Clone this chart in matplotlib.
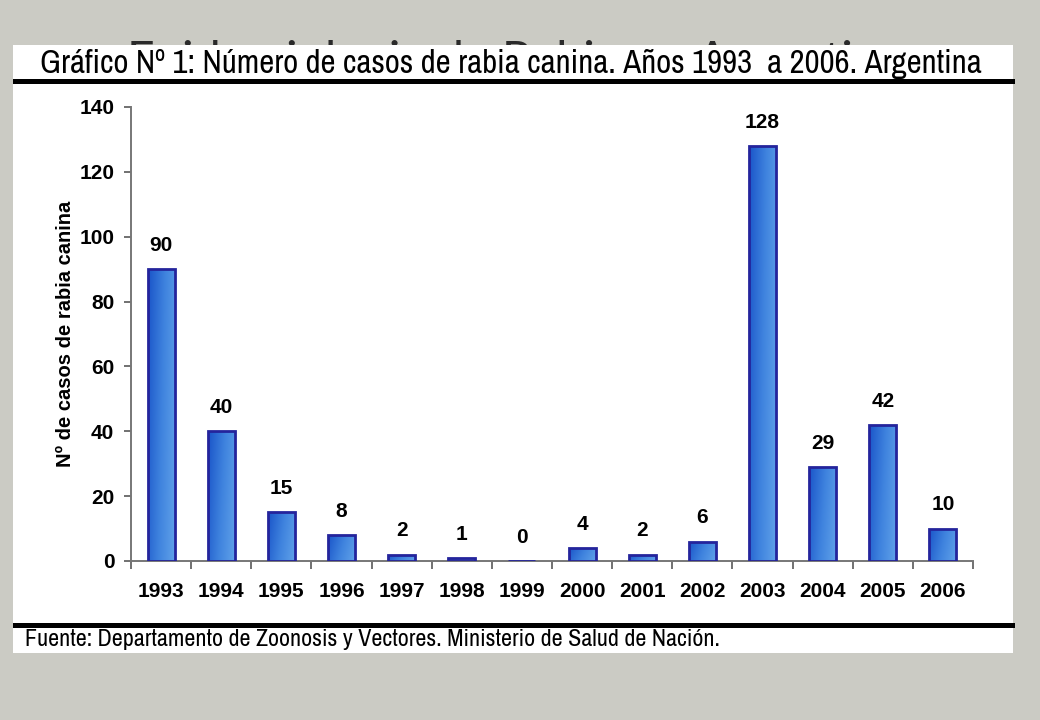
import numpy as np
import matplotlib
matplotlib.use("Agg")
import matplotlib.pyplot as plt
import matplotlib.ticker as mticker
from matplotlib import font_manager
from matplotlib.patches import Rectangle
from matplotlib.lines import Line2D
from matplotlib.colors import LinearSegmentedColormap

years = ["1993", "1994", "1995", "1996", "1997", "1998", "1999",
         "2000", "2001", "2002", "2003", "2004", "2005", "2006"]
cases = [90, 40, 15, 8, 2, 1, 0, 4, 2, 6, 128, 29, 42, 10]

slide_title = "Epidemiologia de Rabia en Argentina"
chart_title = "Gráfico Nº 1: Número de casos de rabia canina. Años 1993  a 2006. Argentina"
source = "Fuente: Departamento de Zoonosis y Vectores. Ministerio de Salud de Nación."
ylabel = "Nº de casos de rabia canina"

plt.rcParams["font.family"] = ["Liberation Sans", "DejaVu Sans"]

# a condensed face if one is installed, else plain Liberation Sans
installed = sorted({f.name for f in font_manager.fontManager.ttflist})
condensed = [n for n in installed if ("Narrow" in n or "Condensed" in n) and "Mono" not in n and "Serif" not in n]
narrow = condensed[:1] + ["Liberation Sans", "DejaVu Sans"]

fig = plt.figure(figsize=(10.4, 7.2), dpi=100)
fig.patch.set_facecolor("#cbcbc4")


def fit_width(txt, px):
    fig.canvas.draw()
    w = txt.get_window_extent().width
    txt.set_fontsize(txt.get_fontsize() * px / w)


# slide heading, mostly hidden behind the white panel
head = fig.text(127 / 1040, 1 - 76 / 720, slide_title, family=["Lato", "DejaVu Sans"],
                fontsize=32, color="#2a2a2a", ha="left", va="baseline", zorder=0.5)
fit_width(head, 778)

panel = Rectangle((13 / 1040, 1 - 653 / 720), 1000 / 1040, 608 / 720,
                  transform=fig.transFigure, facecolor="white", edgecolor="none", zorder=0.8)
fig.add_artist(panel)

title = fig.text(40 / 1040, 1 - 73 / 720, chart_title, family=narrow, fontsize=21,
                 fontweight="semibold", ha="left", va="baseline", color="black", zorder=2)
fit_width(title, 940)
fig.add_artist(Line2D([15 / 1040, 1012 / 1040], [1 - 80.5 / 720] * 2, transform=fig.transFigure,
                      color="black", linewidth=3.6, zorder=2))
fig.add_artist(Line2D([15 / 1040, 1012 / 1040], [1 - 625 / 720] * 2, transform=fig.transFigure,
                      color="black", linewidth=3.6, zorder=2))
foot = fig.text(25 / 1040, 1 - 640 / 720, source, family=narrow, fontsize=15,
                ha="left", va="center", color="black", zorder=2)
fit_width(foot, 693)

ax = fig.add_axes([131 / 1040, 1 - 561 / 720, 842 / 1040, 454 / 720])
ax.set_zorder(1)
ax.patch.set_alpha(0)

x = np.arange(len(years))
bars = ax.bar(x, cases, width=0.45, color="none", edgecolor="#24249c", linewidth=2, zorder=3)

cmap = LinearSegmentedColormap.from_list("bar", ["#1a55c9", "#3f83de", "#62a3ea"])
grad = np.linspace(0, 1, 64).reshape(1, -1)
grad = grad + np.linspace(0, 0.25, 64).reshape(-1, 1)
for b in bars:
    if b.get_height() <= 0:
        continue
    im = ax.imshow(grad, cmap=cmap, aspect="auto", origin="upper", zorder=2,
                   extent=[b.get_x(), b.get_x() + b.get_width(), 0, b.get_height()],
                   vmin=0, vmax=1.25)
    im.set_clip_path(b)

for xi, v in zip(x, cases):
    ax.annotate(str(v), (xi, v), xytext=(0, 17), textcoords="offset points",
                ha="center", va="center", fontsize=15, fontweight="bold")

ax.set_xlim(-0.5, len(years) - 0.5)
ax.set_ylim(0, 140)
ax.yaxis.set_major_locator(mticker.MultipleLocator(20))
ax.set_xticks(x)
ax.set_xticklabels(years)
ax.xaxis.set_minor_locator(mticker.FixedLocator(np.arange(-0.5, len(years), 1)))
ax.tick_params(axis="x", which="major", length=0, pad=15, labelsize=15)
ax.tick_params(axis="x", which="minor", length=6, width=1.3, color="#666666", direction="out")
ax.tick_params(axis="y", length=5, width=1.3, color="#666666", direction="out", pad=7, labelsize=15)
for lab in ax.get_xticklabels() + ax.get_yticklabels():
    lab.set_fontweight("bold")

for s in ["top", "right"]:
    ax.spines[s].set_visible(False)
for s in ["left", "bottom"]:
    ax.spines[s].set_color("#777777")
    ax.spines[s].set_linewidth(1.4)

ax.set_ylabel(ylabel, fontsize=14.5, fontweight="bold", labelpad=3)

fig.savefig("out.png", dpi=100, facecolor=fig.get_facecolor())
